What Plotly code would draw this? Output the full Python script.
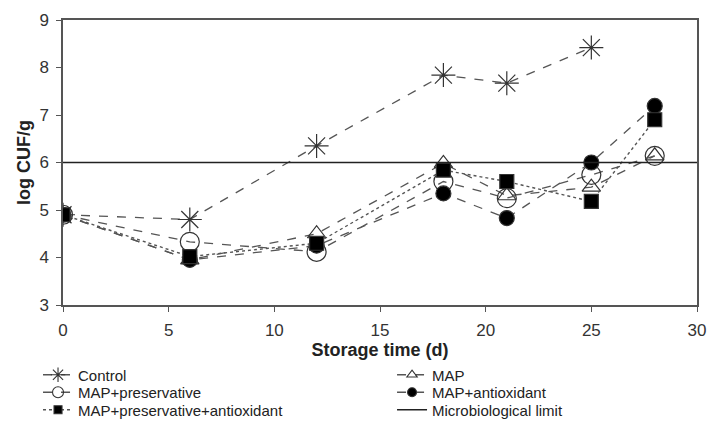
import plotly.graph_objects as go

days = [0, 6, 12, 18, 21, 25]
days_full = [0, 6, 12, 18, 21, 25, 28]
control = [4.9, 4.8, 6.35, 7.84, 7.67, 8.42]
map_ = [4.9, 3.95, 4.5, 5.98, 5.3, 5.48, 6.14]
map_pres = [4.9, 4.33, 4.12, 5.6, 5.25, 5.74, 6.14]
map_antiox = [4.9, 3.95, 4.25, 5.35, 4.83, 6.0, 7.19]
map_pres_antiox = [4.9, 4.02, 4.3, 5.84, 5.6, 5.18, 6.9]
limit_x = [0, 30]
limit_y = [6, 6]

LC = "#555555"
MC = "#333333"

series = [
    # name, x, y, dash, symbol, size, fill, legend id
    ("Control", days, control, "dash", "asterisk-open", 20, False, "legend"),
    ("MAP", days_full, map_, "dash", "triangle-up-open", 16, False, "legend4"),
    ("MAP+preservative", days_full, map_pres, "dash", "circle-open", 19, False, "legend2"),
    ("MAP+antioxidant", days_full, map_antiox, "dash", "circle", 15, True, "legend5"),
    ("MAP+preservative+antioxidant", days_full, map_pres_antiox, "dot", "square", 14, True, "legend3"),
]

fig = go.Figure()
for name, xs, ys, dash, sym, size, filled, _ in series:
    mk = dict(symbol=sym, size=size, color="#000000" if filled else MC,
              line=dict(color=MC, width=1.2))
    fig.add_trace(go.Scatter(x=xs, y=ys, name=name, mode="lines+markers", showlegend=False,
                             line=dict(color=LC, width=1.4 if dash == "dot" else 1.3, dash=dash),
                             marker=mk))
fig.add_trace(go.Scatter(x=limit_x, y=limit_y, name="Microbiological limit", mode="lines",
                         showlegend=False, line=dict(color="#222222", width=1.5)))

# legend entries (small symbols, as in the reference key)
for name, xs, ys, dash, sym, size, filled, leg in series:
    mk = dict(symbol=sym, size=max(8, int(size * 0.6)), color="#000000" if filled else MC,
              line=dict(color=MC, width=1.1))
    fig.add_trace(go.Scatter(x=[None], y=[None], name=name, mode="lines+markers", legend=leg,
                             line=dict(color=LC, width=1.3, dash=dash), marker=mk))
fig.add_trace(go.Scatter(x=[None], y=[None], name="Microbiological limit", mode="lines",
                         legend="legend6", line=dict(color="#222222", width=1.5)))

axis_common = dict(showgrid=False, zeroline=False, showline=True, linecolor="#555555",
                   linewidth=1.5, mirror=True, ticks="outside", ticklen=5,
                   tickcolor="#555555", tickfont=dict(size=17, color="#333333"),
                   ticklabelstandoff=4)
fig.update_xaxes(range=[0, 30], dtick=5, title=dict(text="<b>Storage time (d)</b>",
                 font=dict(size=18, color="#222222"), standoff=3), **axis_common)
fig.update_yaxes(range=[3, 9], dtick=1, title=dict(text="<b>log CUF/g</b>",
                 font=dict(size=18, color="#222222"), standoff=4), **axis_common)

def leg(x, y):
    return dict(orientation="v", yanchor="middle", xanchor="left", x=x, y=y,
                font=dict(size=15, color="#222222"), tracegroupgap=0, itemwidth=30,
                bgcolor="rgba(0,0,0,0)")

col1, col2 = -0.0394, 0.519
rows = [-0.2456, -0.307, -0.3684]
fig.update_layout(
    width=708, height=423,
    margin=dict(l=63, r=11, t=20, b=118, autoexpand=False),
    plot_bgcolor="white", paper_bgcolor="white",
    font=dict(family="Liberation Sans, Arial, sans-serif", color="#222222"),
    legend=leg(col1, rows[0]), legend2=leg(col1, rows[1]), legend3=leg(col1, rows[2]),
    legend4=leg(col2, rows[0]), legend5=leg(col2, rows[1]), legend6=leg(col2, rows[2]),
)
fig.write_html("out.html")
